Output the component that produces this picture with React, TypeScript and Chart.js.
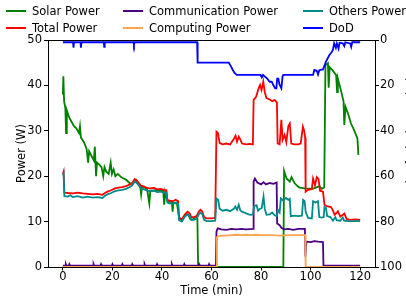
import React, { useEffect, useRef } from "react";
import { Chart, registerables } from "chart.js";

Chart.register(...registerables);

const xTicks = [0, 20, 40, 60, 80, 100, 120];
const powerTicks = [0, 10, 20, 30, 40, 50];
const dodTicks = [0, 20, 40, 60, 80, 100];

const solarTime = [0, 0.2, 0.5, 1.0, 1.3, 1.6, 2.5, 3.5, 4.5, 5.5, 6.5, 6.9, 7.3, 8.5, 9.6, 10.2, 10.6, 11.5, 12.5, 12.9, 13.4, 13.8, 14.8, 15.6, 16.3, 16.8, 17.5, 18.5, 19.3, 19.8, 20.5, 21.2, 22.2, 23.5, 24.5, 25.6, 26.9, 28, 28.9, 29.6, 30.5, 31.2, 31.6, 32, 33, 34, 34.9, 35.3, 36.5, 38, 39.5, 40.5, 40.9, 41.3, 42.2, 44, 44.3, 44.6, 45.5, 46, 46.9, 48, 49.5, 50.5, 51.5, 52.5, 53.5, 54.3, 54.6, 89, 89.3, 90.3, 91.6, 92.3, 93.5, 94.9, 95.6, 97.6, 100.9, 103.6, 104.5, 105.5, 106, 107, 107.3, 107.7, 108.9, 110.3, 110.7, 111, 112.3, 113.3, 113.6, 114.1, 115.3, 116.3, 117.6, 118.9, 119.3];
const solarPower = [38, 42, 36.5, 35, 29.5, 34.5, 33, 32, 31, 30.5, 29.5, 31, 28.5, 27.5, 26, 23, 25.5, 24.5, 23.5, 26.5, 20, 23, 22.5, 22, 20, 22, 21, 20.5, 23, 20.5, 21.5, 20, 20.5, 19.8, 19.5, 19.2, 18.5, 18.2, 19, 19.2, 18.5, 18, 16, 17.8, 17.5, 17.2, 14, 16.8, 16.8, 17, 16.8, 16.8, 13.7, 16.5, 14.5, 14.3, 12.2, 14.2, 14, 14.2, 11, 10.2, 11.5, 11.6, 10.5, 10.5, 11, 10.7, 0, 0, 21.2, 19.5, 18.8, 19.8, 18.5, 17.7, 17.5, 17.3, 17.2, 17.8, 17.2, 17.5, 44.5, 44.9, 39.5, 44, 43.3, 42.3, 38.5, 41.5, 38.8, 36.5, 31.3, 35.3, 33.5, 31.6, 30.1, 28.3, 24.7];

const totalTime = [0, 0.3, 0.6, 2, 4, 6, 8, 10, 12, 14, 16, 17, 18, 19.5, 21, 22.5, 24, 25.5, 27, 28, 29, 29.6, 30.5, 31.5, 32.9, 34, 35, 36.9, 38, 39.5, 40.9, 41.8, 42.2, 43, 44.5, 45.5, 46.5, 46.9, 48, 49.3, 50.3, 51.2, 51.8, 52.8, 54, 55, 55.6, 56.3, 57, 58, 60, 61.5, 62, 62.6, 63.3, 64.5, 66, 67.5, 69, 69.7, 70.3, 71, 71.6, 72.3, 74, 75.5, 76.7, 77, 78, 79, 79.6, 80.2, 80.9, 81.5, 82.2, 83.5, 84.5, 85.5, 86.4, 86.7, 87.5, 88.2, 88.7, 89.5, 90.2, 91, 91.6, 92.2, 93.5, 95, 96, 96.9, 97.4, 97.8, 98, 99, 100.5, 101, 101.8, 102.5, 103.2, 103.8, 105, 105.6, 106.5, 108.2, 108.9, 109.7, 110.3, 111, 112, 113, 113.6, 114.5, 116, 118, 120];
const totalPower = [20.5, 21, 16.4, 16.3, 16.2, 16.4, 16.2, 16.1, 16.0, 16.1, 15.9, 16.3, 16.6, 16.9, 17.3, 17.5, 17.6, 17.8, 18.2, 18.5, 19.4, 19.2, 18.6, 17.9, 17.7, 17.4, 17.3, 17.4, 17.1, 17.2, 17.0, 16.9, 14.8, 14.6, 14.5, 14.8, 14.5, 10.8, 10.5, 11.6, 12.2, 11.8, 11, 11, 11.2, 12.3, 12.6, 12.2, 11, 10.7, 10.7, 10.8, 29.8, 29.5, 27.3, 27, 27.2, 27, 28.2, 28.9, 27.6, 28.7, 28.1, 27.2, 27.0, 27.1, 27.0, 36.8, 37.5, 39.3, 40.1, 39, 40.8, 38.5, 37.2, 36.9, 36.5, 36.8, 36.2, 27.2, 27, 32.4, 28, 29.1, 27.5, 31, 31.6, 27.2, 27, 27, 27.2, 30.9, 30, 28.5, 16.6, 17, 17.2, 19.5, 18, 19.8, 19.4, 16.8, 16.6, 13.7, 13.4, 13.2, 12.6, 11.5, 11.8, 12.3, 11.1, 11.5, 11.8, 10.6, 10.4, 10.5, 10.4];

const commTime = [0, 1.0, 1.2, 1.4, 2.4, 2.6, 2.8, 12.2, 12.4, 12.6, 15.2, 15.4, 15.6, 19.8, 20, 20.2, 23.8, 24, 24.2, 27.8, 28, 28.2, 32.8, 33, 33.2, 37.8, 38, 38.2, 43.8, 44, 44.2, 48.8, 49, 49.2, 54.8, 55, 55.2, 58.8, 59, 59.2, 61.8, 62, 62.5, 64, 66, 68, 70, 72, 74, 76.8, 77, 77.5, 78.5, 80, 81, 82, 83.5, 85, 86.3, 86.5, 87.5, 88.3, 89.5, 91, 93, 95, 97.7, 97.9, 98.3, 100, 101.5, 103, 105, 105.2, 120];
const commPower = [0.3, 0.3, 0.6, 0.3, 0.3, 0.6, 0.3, 0.3, 0.6, 0.3, 0.3, 0.6, 0.3, 0.3, 0.6, 0.3, 0.3, 0.6, 0.3, 0.3, 0.6, 0.3, 0.3, 0.6, 0.3, 0.3, 0.6, 0.3, 0.3, 0.6, 0.3, 0.3, 0.6, 0.3, 0.3, 0.6, 0.3, 0.3, 0.6, 0.3, 0.3, 7.8, 8.5, 8.3, 8.2, 8.4, 8.3, 8.4, 8.3, 8.4, 18.8, 19.5, 18.6, 18.2, 18.7, 18.2, 18.5, 18.3, 18.6, 9.6, 9.2, 8.6, 8.3, 8.4, 8.2, 8.4, 8.4, 2.3, 5.6, 5.5, 5.7, 5.6, 5.5, 0.3, 0.3];

const computingTime = [0, 61.9, 62.2, 63, 64, 66, 68, 70, 72, 74, 76, 78, 80, 84, 88, 92, 96, 97.8, 98, 120];
const computingPower = [0, 0, 6.6, 6.8, 6.9, 6.9, 7.0, 7.1, 7.0, 7.1, 7.0, 7.1, 7.0, 7.0, 6.9, 7.0, 7.0, 7.0, 0, 0];

const othersTime = [0, 0.3, 0.6, 2, 3, 4, 6, 8, 10, 12, 14, 16, 17, 18, 19.5, 21, 22.5, 24, 25.5, 27, 28, 29, 29.6, 30.5, 31.5, 32.9, 34, 35, 36.9, 38, 39.5, 40.9, 41.8, 42.2, 43, 44.5, 45.5, 46.5, 46.9, 48, 49.3, 50.3, 51.2, 51.8, 52.8, 54, 55, 55.6, 56.3, 57, 58, 60, 61.5, 62, 62.7, 63.3, 64.5, 66, 67.5, 69, 69.6, 70.3, 71, 71.6, 72.3, 74, 75.5, 76.7, 77.2, 78.2, 78.8, 79.5, 80.3, 81, 81.5, 82.2, 83.5, 84.5, 85.5, 86.4, 86.8, 87.5, 88, 89, 90, 91, 91.6, 92, 93.5, 95, 96.5, 97, 97.6, 98, 99, 100.5, 101, 102, 103, 103.5, 104.5, 105.3, 105.6, 106.2, 106.7, 108, 109, 110, 110.5, 112, 113, 113.5, 115, 117, 120];
const othersPower = [20.2, 20.6, 15.6, 15.5, 15.8, 15.4, 15.6, 15.3, 15.5, 15.3, 15.4, 15.2, 15.7, 16.0, 16.3, 16.7, 16.9, 17, 17.2, 17.6, 18, 18.8, 18.6, 18.1, 17.3, 17.1, 16.8, 16.7, 16.8, 16.5, 16.6, 16.4, 16.3, 14.2, 14.0, 13.9, 14.2, 13.9, 10.3, 10.0, 11.1, 11.6, 11.2, 10.4, 10.4, 10.6, 11.7, 12.0, 11.6, 10.4, 10.1, 10.1, 10.2, 15.1, 14.8, 12.8, 12.4, 12.6, 12.3, 12.8, 13.3, 12.6, 13.7, 12.5, 12.2, 11.8, 11.5, 11.6, 13.4, 13.6, 12.4, 12.8, 13, 15.5, 12.8, 11.5, 11.6, 12.0, 11.4, 11.2, 12.6, 12.0, 15.1, 14.6, 15.2, 14.8, 15, 11.2, 11.3, 11.2, 11.3, 14.8, 14.5, 12.2, 10.8, 10.7, 14.5, 14.2, 14.5, 11, 10.9, 11, 13.2, 13.0, 11.2, 11, 10.2, 11, 10.3, 10.2, 10.9, 10.2, 10.1, 10.1, 10.1];

const dodTime = [0, 4.1, 4.3, 4.5, 7.1, 7.3, 7.5, 16.5, 16.7, 16.9, 28.5, 28.7, 28.9, 54.2, 54.4, 67, 67.8, 68.5, 69.3, 70.2, 79.8, 80.3, 80.8, 82.5, 83.5, 84.3, 84.8, 85.7, 86.2, 86.5, 87, 87.4, 88.2, 88.7, 89, 101, 101.5, 102.5, 103, 103.5, 105, 106.2, 107.6, 108.4, 109, 109.5, 110.2, 110.6, 111.3, 111.7, 113, 113.6, 114, 116, 116.4, 116.8, 120];
const dodValues = [1, 1, 3.4, 1, 1, 3.4, 1, 1, 3, 1, 1, 2, 1, 1, 10, 10, 11.5, 13, 14.5, 15.4, 15.4, 16.5, 15.4, 17, 18.4, 18.4, 19.5, 21.3, 21.3, 17, 17, 19.5, 21.3, 16, 15.4, 15.4, 13.2, 13.5, 15.2, 13.3, 13, 9.5, 6.6, 5.5, 4.4, 1.5, 3.5, 1.5, 3.8, 1.2, 1.5, 2.7, 1, 1.5, 3, 1, 1];

const legendItems = [
  { label: "Solar Power", color: "#008000", col: 0, row: 0 },
  { label: "Total Power", color: "#ff0000", col: 0, row: 1 },
  { label: "Communication Power", color: "#4b0082", col: 1, row: 0 },
  { label: "Computing Power", color: "#ffa54f", col: 1, row: 1 },
  { label: "Others Power", color: "#008b8b", col: 2, row: 0 },
  { label: "DoD", color: "#0000ff", col: 2, row: 1 },
];

const FONT = "'DejaVu Sans', sans-serif";
const colX = [6, 123, 303];
const rowY = [11, 28];

function pts(t: number[], v: number[]) {
  return t.map((x, i) => ({ x, y: v[i] }));
}

const boxPlugin = {
  id: "boxPlugin",
  afterDraw(chart: any) {
    const { ctx, chartArea } = chart;
    ctx.save();
    ctx.strokeStyle = "#000";
    ctx.lineWidth = 1;
    ctx.strokeRect(
      Math.round(chartArea.left) + 0.5,
      Math.round(chartArea.top) + 0.5,
      Math.round(chartArea.right - chartArea.left),
      Math.round(chartArea.bottom - chartArea.top)
    );
    ctx.restore();
  },
};

export default function App() {
  const ref = useRef<HTMLCanvasElement | null>(null);

  useEffect(() => {
    if (!ref.current) return;
    const font = { family: FONT, size: 11.5 };
    const tickGrid = {
      display: true,
      drawOnChartArea: false,
      drawTicks: true,
      tickLength: 4,
      color: "#000",
      lineWidth: 1,
    };
    const line = (label: string, color: string, data: any, order: number, yAxisID = "y", width = 1.8) => ({
      label,
      data,
      borderColor: color,
      backgroundColor: color,
      borderWidth: width,
      pointRadius: 0,
      tension: 0,
      fill: false,
      order,
      yAxisID,
    });
    const chart = new Chart(ref.current, {
      type: "line",
      data: {
        datasets: [
          line("Solar Power", "#008000", pts(solarTime, solarPower), 6),
          line("Total Power", "#ff0000", pts(totalTime, totalPower), 5),
          line("Communication Power", "#4b0082", pts(commTime, commPower), 4),
          line("Computing Power", "#ffa54f", pts(computingTime, computingPower), 3),
          line("Others Power", "#008b8b", pts(othersTime, othersPower), 2),
          line("DoD", "#0000ff", pts(dodTime, dodValues), 1, "y2", 1.8),
        ],
      },
      options: {
        animation: false,
        responsive: false,
        maintainAspectRatio: false,
        layout: { padding: { top: 40, left: 0, right: 0, bottom: 0 } },
        plugins: { legend: { display: false }, tooltip: { enabled: false } },
        scales: {
          x: {
            type: "linear",
            min: -6,
            max: 126,
            afterBuildTicks: (s: any) => {
              s.ticks = xTicks.map((v) => ({ value: v }));
            },
            afterFit: (s: any) => {
              s.height = 33;
            },
            ticks: { font, color: "#000", padding: 0, maxRotation: 0, autoSkip: false },
            grid: { ...tickGrid, tickLength: 3.5 },
            border: { display: false },
            title: { display: true, text: "Time (min)", font, color: "#000", padding: { top: 0, bottom: 2 } },
          },
          y: {
            type: "linear",
            position: "left",
            min: 0,
            max: 50,
            afterBuildTicks: (s: any) => {
              s.ticks = powerTicks.map((v) => ({ value: v }));
            },
            afterFit: (s: any) => {
              s.width = 48;
            },
            ticks: { font, color: "#000", padding: 2, autoSkip: false },
            grid: tickGrid,
            border: { display: false },
            title: { display: true, text: "Power (W)", font, color: "#000", padding: { top: 15, bottom: 0 } },
          },
          y2: {
            type: "linear",
            position: "right",
            min: 0,
            max: 100,
            reverse: true,
            afterBuildTicks: (s: any) => {
              s.ticks = dodTicks.map((v) => ({ value: v }));
            },
            afterFit: (s: any) => {
              s.width = 31;
            },
            ticks: { font, color: "#000", padding: 1, autoSkip: false },
            grid: tickGrid,
            border: { display: false },
          },
        },
      },
      plugins: [boxPlugin],
    } as any);
    return () => chart.destroy();
  }, []);

  return (
    <div
      style={{
        position: "fixed",
        left: 0,
        top: 0,
        width: 406,
        height: 300,
        overflow: "hidden",
        background: "#fff",
        fontFamily: FONT,
      }}
    >
      <canvas ref={ref} width={406} height={300} style={{ position: "absolute", left: 0, top: 0 }} />
      {legendItems.map((it) => (
        <div
          key={it.label}
          style={{
            position: "absolute",
            left: colX[it.col],
            top: rowY[it.row] - 8,
            height: 16,
            display: "flex",
            alignItems: "center",
            whiteSpace: "nowrap",
            fontSize: 11.5,
            color: "#000",
          }}
        >
          <span style={{ display: "inline-block", width: 20, height: 2, background: it.color, marginRight: 6 }} />
          <span>{it.label}</span>
        </div>
      ))}
      <div
        style={{
          position: "absolute",
          left: 403.5,
          top: 68,
          height: 152,
          width: 14,
          lineHeight: "14px",
          fontSize: 11.5,
          writingMode: "vertical-rl",
          transform: "rotate(180deg)",
          textAlign: "center",
          whiteSpace: "nowrap",
          color: "#000",
        }}
      >
        Depth of Discharge (%)
      </div>
    </div>
  );
}
